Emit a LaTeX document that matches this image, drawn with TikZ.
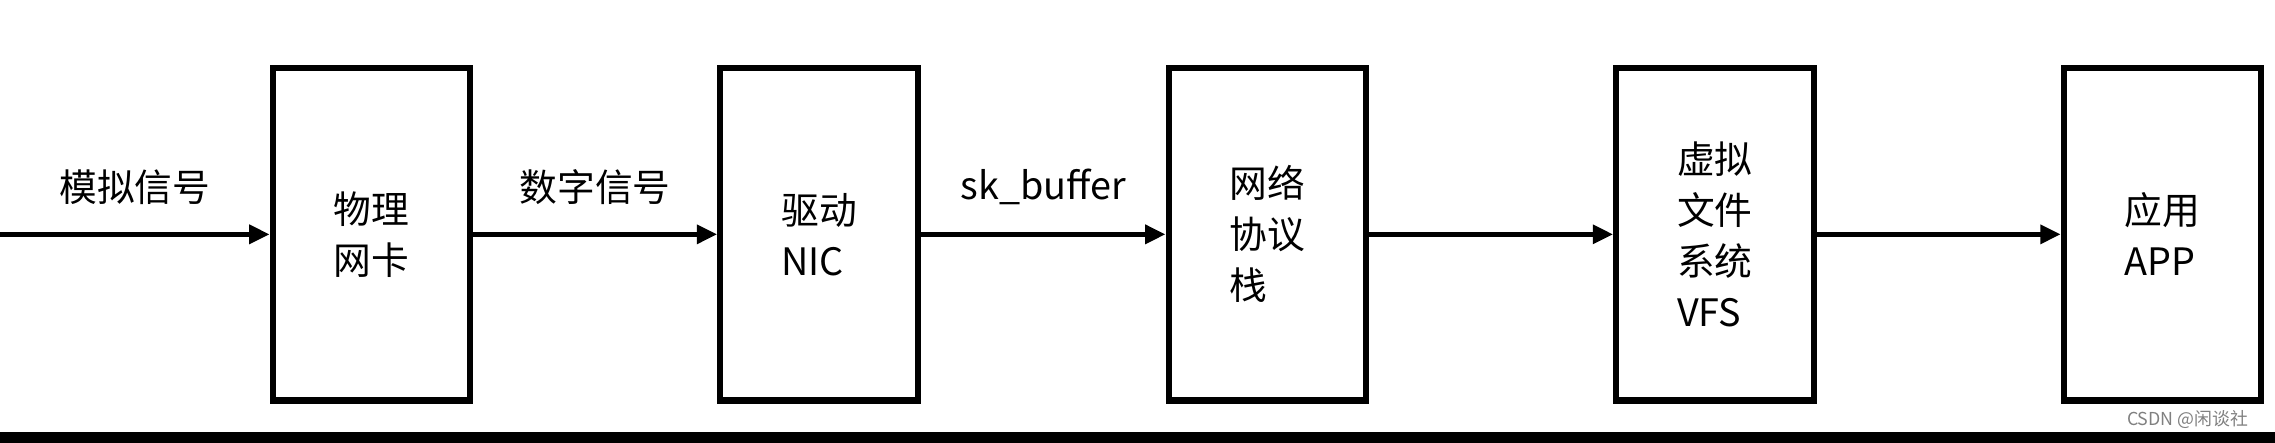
\documentclass[tikz,border=0pt]{standalone}
\usepackage{fontspec}
\setmainfont{Liberation Sans}
\newfontfamily\cjk{Noto Sans CJK SC}
\usetikzlibrary{arrows.meta,positioning}

\begin{document}
\begin{tikzpicture}[x=0.01cm,y=-0.01cm,
    layer/.style={draw=black,line width=1.2pt,minimum width=1.36cm,minimum height=2.29cm,
        inner sep=0pt,align=left,font=\cjk\fontsize{7.4}{10}\selectfont},
    flow/.style={line width=1pt,-{Triangle[length=4pt,width=3.6pt]}},
    tag/.style={font=\cjk\fontsize{7.4}{8.5}\selectfont}]
        \useasboundingbox (0,0) rectangle (1568,305);

        \node[layer] (nic)   at (256,161.5)  {物理\\网卡};
        \node[layer] (drv)   at (564.5,161.5) {驱动\\NIC};
        \node[layer] (stack) at (873.5,161.5) {网络\\协议\\栈};
        \node[layer] (vfs)   at (1182,161.5) {虚拟\\文件\\系统\\VFS};
        \node[layer] (app)   at (1490.5,161.5) {应用\\APP};
        \coordinate (src) at (0,161.5);

        \draw[flow] (src) -- node[tag,above=2pt] {模拟信号} (nic);
        \draw[flow] (nic) -- node[tag,above=2pt] {数字信号} (drv);
        \draw[flow] (drv) -- node[tag,above=2pt] {sk\_buffer} (stack);
        \draw[flow] (stack) -- (vfs);
        \draw[flow] (vfs) -- (app);

        \fill[black] (0,298) rectangle (1568,305);
        \node[font=\cjk\fontsize{3.5}{4}\selectfont,text=gray,anchor=east] (mark) at (1562,289) {CSDN @闲谈社};
    \end{tikzpicture}
\end{document}
